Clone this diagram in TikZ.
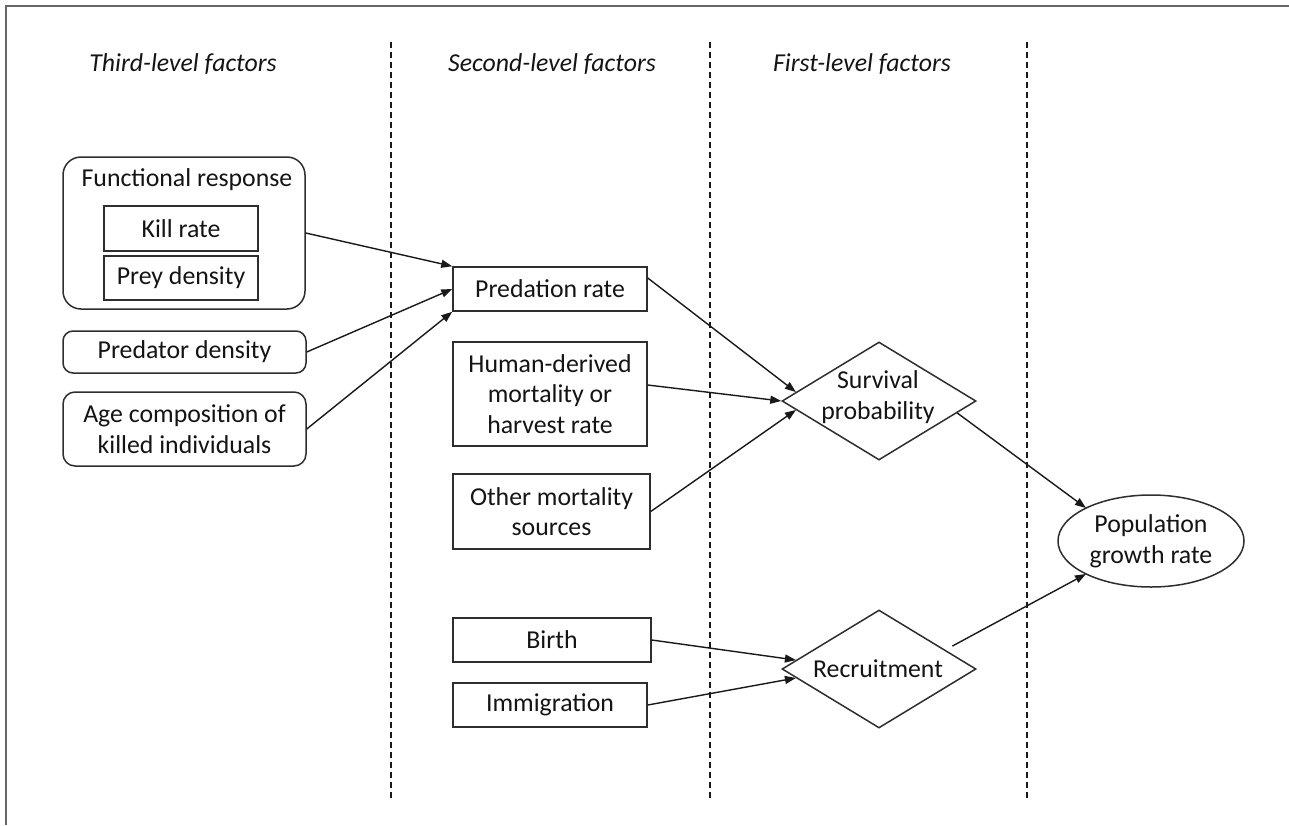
\documentclass[tikz,border=0pt]{standalone}
\usepackage{fontspec}
\setmainfont{Carlito}
\usetikzlibrary{shapes.geometric,arrows.meta,calc}

\begin{document}
\begin{tikzpicture}[x=1pt,y=-1pt,
  font=\fontsize{25.8}{30.5}\selectfont,
  every node/.style={text=black!92},
  box/.style={draw=black!82, line width=1.5pt, inner sep=0pt, align=center},
  rbox/.style={box, rounded corners=10pt},
  dia/.style={diamond, draw=black!82, line width=1.5pt, inner sep=0pt, minimum width=194pt, minimum height=118pt},
  arr/.style={draw=black!90, line width=1.4pt, -{Triangle[length=11pt,width=8pt]}},
  divider/.style={draw=black!90, line width=1.3pt, dash pattern=on 6pt off 4pt},
  header/.style={font=\fontsize{25.8}{30.5}\selectfont\itshape},
]
\useasboundingbox (0,0) rectangle (1289,825);
\fill[white] (0,0) rectangle (1289,825);
% frame
\draw[black!60, line width=2pt] (6,825) -- (6,6) -- (1289,6);

% dividers
\draw[divider] (391,42) -- (391,800);
\draw[divider] (710,42) -- (710,800);
\draw[divider] (1027,42) -- (1027,800);

% headers
\node[header] (h3) at (183,64) {Third-level factors};
\node[header] (h2) at (552,64) {Second-level factors};
\node[header] (h1) at (862,64) {First-level factors};

% third level
\node[box, rounded corners=18pt, minimum width=242pt, minimum height=152pt] (fr) at (184,233) {};
\node (frt) at (187,180) {Functional response};
\node[box, minimum width=154pt, minimum height=45pt] (kill) at (181,228.5) {Kill rate};
\node[box, minimum width=154pt, minimum height=44pt] (prey) at (181,278) {Prey density};
\node[rbox, minimum width=243pt, minimum height=42pt] (pd) at (184.5,352) {Predator density};
\node[rbox, rounded corners=12pt, minimum width=243pt, minimum height=74pt] (age) at (184.5,429) {Age composition of\\killed individuals};

% second level
\node[box, minimum width=194pt, minimum height=44pt] (pred) at (550,289) {Predation rate};
\node[box, minimum width=194pt, minimum height=104pt] (human) at (550,394) {Human-derived\\mortality or\\harvest rate};
\node[box, minimum width=197pt, minimum height=75pt] (other) at (551.5,511.5) {Other mortality\\sources};
\node[box, minimum width=198pt, minimum height=44pt] (birth) at (552,640) {Birth};
\node[box, minimum width=194pt, minimum height=44pt] (imm) at (550,705) {Immigration};

% first level
\node[dia] (surv) at (879,401) {};
\node[align=center] (survt) at (878,397) {Survival\\probability};
\node[dia] (rec) at (879,669) {};
\node (rect) at (878,669) {Recruitment};

% outcome
\node[ellipse, draw=black!82, line width=1.5pt, inner sep=0pt, minimum width=186pt, minimum height=92pt, align=center] (pop) at (1151,541) {Population\\growth rate};

% connectors
\draw[arr] (fr.east) -- (pred.north west);
\draw[arr] (pd.east) -- (pred.west);
\draw[arr] (age.east) -- (pred.south west);
\draw[arr] ($(pred.east)+(0,-11)$) -- ($(surv.west)!0.15!(surv.north)$);
\draw[arr] ($(human.east)+(0,-9)$) -- (surv.west);
\draw[arr] (other.east) -- ($(surv.west)!0.15!(surv.south)$);
\draw[arr] (birth.east) -- ($(rec.west)!0.15!(rec.north)$);
\draw[arr] (imm.east) -- ($(rec.west)!0.15!(rec.south)$);
\draw[arr] ($(surv.east)!0.2!(surv.south)$) -- ($(pop.center)+(-65,-33)$);
\draw[arr] ($(rec.east)!0.25!(rec.north)+(0,-8)$) -- ($(pop.center)+(-65,33)$);
\end{tikzpicture}
\end{document}
